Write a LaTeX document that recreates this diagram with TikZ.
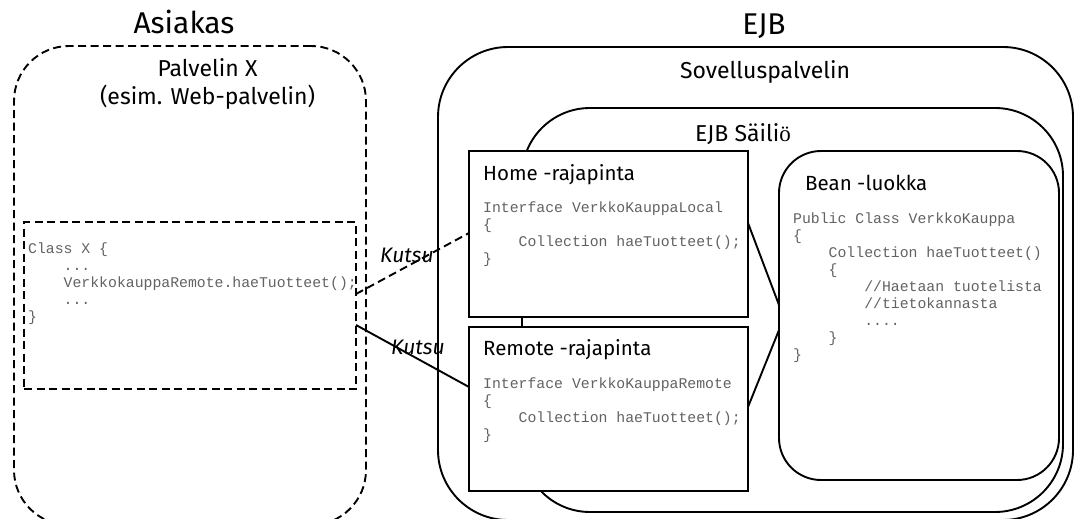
\documentclass[tikz,border=0pt]{standalone}
\usepackage{fontspec}
\setmainfont{Fira Sans}
\newfontfamily\codefont{Liberation Mono}
\newfontfamily\oefont{Liberation Serif}
\definecolor{codegray}{HTML}{626262}
% a block of source code: first line's baseline is the block's baseline
\newcommand\codeblock[1]{\vtop{\codefont\fontsize{14.8}{17}\selectfont\baselineskip=17pt\relax #1}}
\newcommand\codeln[1]{\hbox{#1}}
\newcommand\ind{\hphantom{0000}}
\begin{document}
\begin{tikzpicture}[x=1pt,y=-1pt,
  box/.style={draw, line width=1.9pt, fill=white, inner sep=0, outer sep=0},
  dashbox/.style={draw, line width=1.9pt, dash pattern=on 8pt off 4.5pt, inner sep=0, outer sep=0},
  title/.style={anchor=base, inner sep=0, font=\fontsize{30}{36}\selectfont},
  label/.style={anchor=base, inner sep=0, font=\fontsize{23}{28}\selectfont},
  heading/.style={anchor=base west, inner sep=0, font=\fontsize{20.5}{25}\selectfont},
  call/.style={anchor=base west, inner sep=0, font=\itshape\fontsize{21}{25}\selectfont},
  code/.style={anchor=base west, inner sep=0, text=codegray},
  link/.style={line width=1.9pt},
  dashlink/.style={line width=1.9pt, dash pattern=on 8pt off 4.5pt}]

\useasboundingbox (0,0) rectangle (1076,519);
\clip (0,0) rectangle (1076,519);

% client side
\node[dashbox, rounded corners=55pt, minimum width=352pt, minimum height=479pt] (asiakasbox) at (190,285.5) {};
\node[dashbox, minimum width=332pt, minimum height=167pt] (koodi) at (190,305.5) {};

% server side
\node[box, rounded corners=70pt, minimum width=635pt, minimum height=473pt] (sovellus) at (755.5,283.5) {};
\node[box, rounded corners=68pt, minimum width=541pt, minimum height=404pt] (sailio) at (792.5,310) {};
\node[box, minimum width=279pt, minimum height=166pt] (home) at (608.5,234) {};
\node[box, minimum width=279pt, minimum height=164pt] (remote) at (608.5,409) {};
\node[box, rounded corners=42pt, minimum width=280pt, minimum height=329pt] (bean) at (919,315.5) {};

% titles
\node[title] (asiakas) at (184,34) {Asiakas};
\node[title] (ejb) at (764,35) {EJB};
\node[label] (palvelin) at (207.5,77) {Palvelin X};
\node[label] (esim) at (207.5,104) {(esim. Web-palvelin)};
\node[label] (sovlabel) at (765,78) {Sovelluspalvelin};
\node[label] (sailabel) at (743,141) {EJB Säili{\oefont ö}};
\node[heading] (homelabel) at (483,180) {Home -rajapinta};
\node[heading] (remotelabel) at (483,355) {Remote -rajapinta};
\node[heading] (beanlabel) at (805,190) {Bean -luokka};

% source code
\node[code] (koodiX) at (28,253) {\codeblock{%
  \codeln{Class X \{}
  \codeln{\ind ...}
  \codeln{\ind VerkkokauppaRemote.haeTuotteet();}
  \codeln{\ind ...}
  \codeln{\}}}};
\node[code] (homecode) at (483,212) {\codeblock{%
  \codeln{Interface VerkkoKauppaLocal}
  \codeln{\{}
  \codeln{\ind Collection haeTuotteet();}
  \codeln{\}}}};
\node[code] (remotecode) at (483,388) {\codeblock{%
  \codeln{Interface VerkkoKauppaRemote}
  \codeln{\{}
  \codeln{\ind Collection haeTuotteet();}
  \codeln{\}}}};
\node[code] (beancode) at (793,223) {\codeblock{%
  \codeln{Public Class VerkkoKauppa}
  \codeln{\{}
  \codeln{\ind Collection haeTuotteet()}
  \codeln{\ind \{}
  \codeln{\ind\ind //Haetaan tuotelista}
  \codeln{\ind\ind //tietokannasta}
  \codeln{\ind\ind ....}
  \codeln{\ind \}}
  \codeln{\}}}};

% connectors
\draw[dashlink] ([yshift=11.5pt]koodi.east) -- ([yshift=1pt]home.west);
\draw[link] ([yshift=-19.5pt]koodi.east) -- ([yshift=22pt]remote.west);
\draw[link] ([yshift=11pt]home.east) -- ([yshift=10.5pt]bean.west);
\draw[link] ([yshift=2pt]remote.east) -- ([yshift=-14.5pt]bean.west);

% call labels
\node[call] (kutsu1) at (380,262) {Kutsu};
\node[call] (kutsu2) at (391,354) {Kutsu};
\end{tikzpicture}
\end{document}
